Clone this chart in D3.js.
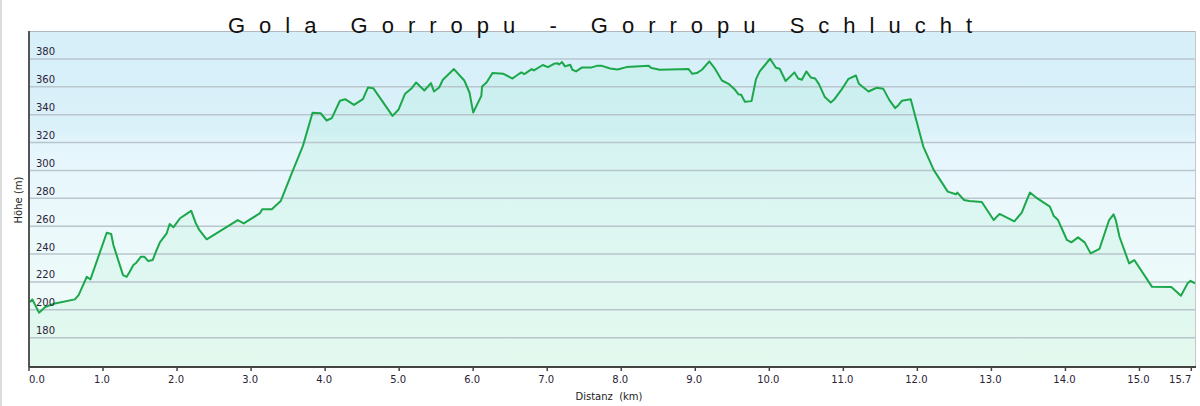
<!DOCTYPE html>
<html>
<head>
    <title>Gola Gorropu</title>
    <script src="https://d3js.org/d3.v7.min.js"></script>
    <style>
        body { margin: 0; background: #fff; }
        svg { display: block; }
    </style>
</head>
<body>
<svg width="1200" height="406"></svg>
<script>
    // distance (km) and elevation (m)
    var distKm = [0.0, 0.045, 0.135, 0.22, 0.35, 0.62, 0.67, 0.78, 0.83, 1.05, 1.11, 1.14, 1.27, 1.32, 1.36, 1.41, 1.45, 1.51, 1.56, 1.61, 1.67, 1.72, 1.77, 1.86, 1.9, 1.95, 2.04, 2.13, 2.19, 2.25, 2.3, 2.4, 2.82, 2.9, 3.12, 3.15, 3.28, 3.4, 3.55, 3.7, 3.83, 3.94, 4.02, 4.09, 4.2, 4.27, 4.39, 4.51, 4.58, 4.65, 4.91, 4.99, 5.08, 5.17, 5.23, 5.34, 5.43, 5.47, 5.54, 5.59, 5.74, 5.88, 5.95, 6.0, 6.11, 6.12, 6.18, 6.26, 6.41, 6.53, 6.62, 6.65, 6.69, 6.79, 6.82, 6.94, 7.01, 7.09, 7.14, 7.16, 7.2, 7.24, 7.31, 7.34, 7.39, 7.47, 7.6, 7.67, 7.74, 7.85, 7.95, 8.07, 8.37, 8.41, 8.52, 8.91, 8.96, 9.02, 9.09, 9.19, 9.26, 9.36, 9.45, 9.53, 9.58, 9.62, 9.67, 9.76, 9.82, 9.87, 10.01, 10.09, 10.14, 10.22, 10.34, 10.39, 10.44, 10.5, 10.56, 10.62, 10.67, 10.75, 10.83, 10.88, 10.98, 11.07, 11.17, 11.21, 11.34, 11.45, 11.54, 11.62, 11.7, 11.74, 11.79, 11.91, 11.99, 12.08, 12.13, 12.22, 12.41, 12.52, 12.54, 12.63, 12.7, 12.87, 13.03, 13.11, 13.31, 13.41, 13.46, 13.52, 13.6, 13.79, 13.84, 13.9, 14.02, 14.08, 14.17, 14.26, 14.34, 14.46, 14.53, 14.59, 14.65, 14.68, 14.73, 14.86, 14.93, 15.17, 15.43, 15.56, 15.65, 15.69, 15.75];
    var elevM = [205, 207.5, 198, 202, 204.6, 207.5, 210.6, 223.7, 221.8, 255.3, 254.4, 246.5, 224.9, 223.7, 227.3, 232.1, 233.8, 238, 238, 235, 235.7, 242.4, 248.6, 254.9, 261.6, 259.2, 265.7, 268.8, 271.1, 262.5, 257.3, 250.6, 264.4, 262, 269.3, 272.1, 272.1, 278, 298, 317.6, 341.3, 341, 335.8, 337.5, 350, 351.1, 347, 351.1, 359.5, 359, 339.1, 343.5, 355, 359, 363.1, 357.3, 362.6, 356.6, 359.5, 365, 372.7, 364.5, 355.9, 341.5, 353.5, 360.2, 363.1, 369.8, 369.3, 365.9, 369.3, 370.3, 369.1, 372.7, 371.7, 375.6, 374.1, 376.5, 376.9, 376, 377.7, 374.6, 375.8, 372.2, 371, 373.9, 373.9, 375, 375, 373.1, 372.4, 374.1, 375, 373.4, 372.2, 372.7, 369.3, 369.8, 372.2, 378.2, 373.4, 364.5, 362.1, 358.3, 354.7, 354.3, 349.2, 349.7, 365.5, 371, 380.1, 373.6, 372.9, 364.1, 370.3, 365.9, 365, 371, 366.7, 365.9, 361.9, 352.6, 348.7, 351.1, 358.3, 365.7, 368.1, 362.1, 356.6, 359.3, 358.5, 350.6, 344.7, 346.6, 349.9, 351.1, 335.1, 317.1, 311.1, 300.4, 284.8, 282.9, 284.1, 278.8, 278.1, 277.4, 264.4, 268.8, 263.5, 269.7, 276.4, 284.1, 280.7, 274, 267.5, 264.4, 250.1, 248.4, 252, 248.4, 240.5, 243.8, 254.9, 264.4, 268.5, 264.4, 252.4, 233.3, 235.7, 216.5, 216.3, 210.1, 219, 220.8, 219];

    var xTicks = [0, 1, 2, 3, 4, 5, 6, 7, 8, 9, 10, 11, 12, 13, 14, 15, 15.7];
    var yTicks = [180, 200, 220, 240, 260, 280, 300, 320, 340, 360, 380];

    var chartTitle = "Gola Gorropu - Gorropu Schlucht";

    function draw() {
        var svg = d3.select("svg");
        var pLeft = 29, pRight = 1195, pTop = 31, pBottom = 367;

        var x = d3.scaleLinear().domain([0, 15.75]).range([pLeft, pRight]);
        var y = d3.scaleLinear().domain([159, 400]).range([pBottom, pTop]);

        var defs = svg.append("defs");
        var bg = defs.append("linearGradient")
            .attr("id", "bg").attr("x1", 0).attr("y1", 0).attr("x2", 0).attr("y2", 1);
        bg.append("stop").attr("offset", "0").attr("stop-color", "#d6eff9");
        bg.append("stop").attr("offset", "0.3").attr("stop-color", "#dbf1fa");
        bg.append("stop").attr("offset", "0.33").attr("stop-color", "#e4f5fc");
        bg.append("stop").attr("offset", "0.5").attr("stop-color", "#eaf8fc");
        bg.append("stop").attr("offset", "1").attr("stop-color", "#f0fcf7");

        var fillGrad = defs.append("linearGradient")
            .attr("id", "fillGrad").attr("gradientUnits", "userSpaceOnUse")
            .attr("x1", 0).attr("y1", pTop).attr("x2", 0).attr("y2", pBottom);
        fillGrad.append("stop").attr("offset", "0").attr("stop-color", "#a8ecd6").attr("stop-opacity", 0.28);
        fillGrad.append("stop").attr("offset", "1").attr("stop-color", "#b6f0d0").attr("stop-opacity", 0.22);

        // outer frame line on the far left
        svg.append("line")
            .attr("x1", 1).attr("x2", 1).attr("y1", 0).attr("y2", 406)
            .attr("stroke", "#dcdcdc").attr("stroke-width", 2);

        svg.append("rect")
            .attr("x", pLeft).attr("y", pTop)
            .attr("width", pRight - pLeft).attr("height", pBottom - pTop)
            .attr("fill", "url(#bg)");

        var data = distKm.map(function (d, i) {
            return {d: d, e: elevM[i]};
        });

        var area = d3.area()
            .x(function (p) { return x(p.d); })
            .y0(pBottom)
            .y1(function (p) { return y(p.e); });

        svg.append("path")
            .datum(data)
            .attr("d", area)
            .attr("fill", "url(#fillGrad)");

        // grid lines
        svg.append("g")
            .selectAll("line")
            .data(yTicks)
            .enter().append("line")
            .attr("x1", pLeft).attr("x2", pRight)
            .attr("y1", function (d) { return y(d); })
            .attr("y2", function (d) { return y(d); })
            .attr("stroke", "#b9c5cc")
            .attr("stroke-width", 1.5);

        svg.append("line")
            .attr("x1", pLeft).attr("x2", pRight).attr("y1", pTop + 0.5).attr("y2", pTop + 0.5)
            .attr("stroke", "#b0b8be").attr("stroke-width", 1);
        svg.append("line")
            .attr("x1", pRight + 0.5).attr("x2", pRight + 0.5).attr("y1", pTop).attr("y2", pBottom)
            .attr("stroke", "#c4c8cc").attr("stroke-width", 1);

        var line = d3.line()
            .x(function (p) { return x(p.d); })
            .y(function (p) { return y(p.e); });

        svg.append("path")
            .datum(data)
            .attr("d", line)
            .attr("fill", "none")
            .attr("stroke", "#1ca84a")
            .attr("stroke-width", 2)
            .attr("stroke-linejoin", "round");

        // y labels sit inside the plot, above each grid line
        svg.append("g")
            .selectAll("text")
            .data(yTicks)
            .enter().append("text")
            .attr("x", 36)
            .attr("y", function (d) { return y(d) - 3.5; })
            .attr("font-family", "DejaVu Sans, Verdana, sans-serif")
            .attr("font-size", 10)
            .attr("fill", "#2c2236")
            .text(function (d) { return d; });

        // axis lines
        svg.append("line")
            .attr("x1", pLeft).attr("x2", pLeft).attr("y1", pTop).attr("y2", pBottom)
            .attr("stroke", "#555").attr("stroke-width", 2);
        svg.append("line")
            .attr("x1", pLeft).attr("x2", pRight + 1).attr("y1", pBottom).attr("y2", pBottom)
            .attr("stroke", "#444").attr("stroke-width", 2);

        var last = xTicks.length - 1;
        var xt = svg.append("g")
            .selectAll("g")
            .data(xTicks)
            .enter().append("g");
        xt.append("line")
            .attr("x1", function (d) { return x(d); })
            .attr("x2", function (d) { return x(d); })
            .attr("y1", pBottom).attr("y2", pBottom + 4)
            .attr("stroke", "#444").attr("stroke-width", 1.5);
        xt.append("text")
            .attr("x", function (d, i) { return (i === 0 || i === last) ? x(d) : x(d) - 1; })
            .attr("y", 383)
            .attr("text-anchor", function (d, i) { return i === 0 ? "start" : (i === last ? "end" : "middle"); })
            .attr("font-family", "DejaVu Sans, Verdana, sans-serif")
            .attr("font-size", 10)
            .attr("fill", "#2c2236")
            .text(function (d) { return d.toFixed(1); });

        svg.append("text")
            .attr("x", 609).attr("y", 400)
            .attr("text-anchor", "middle")
            .attr("font-family", "DejaVu Sans, Verdana, sans-serif")
            .attr("font-size", 10)
            .attr("fill", "#222")
            .style("white-space", "pre")
            .text("Distanz  (km)");

        svg.append("text")
            .attr("transform", "translate(22,200) rotate(-90)")
            .attr("text-anchor", "middle")
            .attr("font-family", "DejaVu Sans, Verdana, sans-serif")
            .attr("font-size", 10)
            .attr("fill", "#222")
            .text("Höhe (m)");

        svg.append("text")
            .attr("x", 228).attr("y", 33)
            .attr("font-family", "Liberation Sans, Arial, sans-serif")
            .attr("font-size", 22)
            .attr("letter-spacing", 14)
            .attr("fill", "#111")
            .text(chartTitle);
    }
    draw();
</script>
</body>
</html>
